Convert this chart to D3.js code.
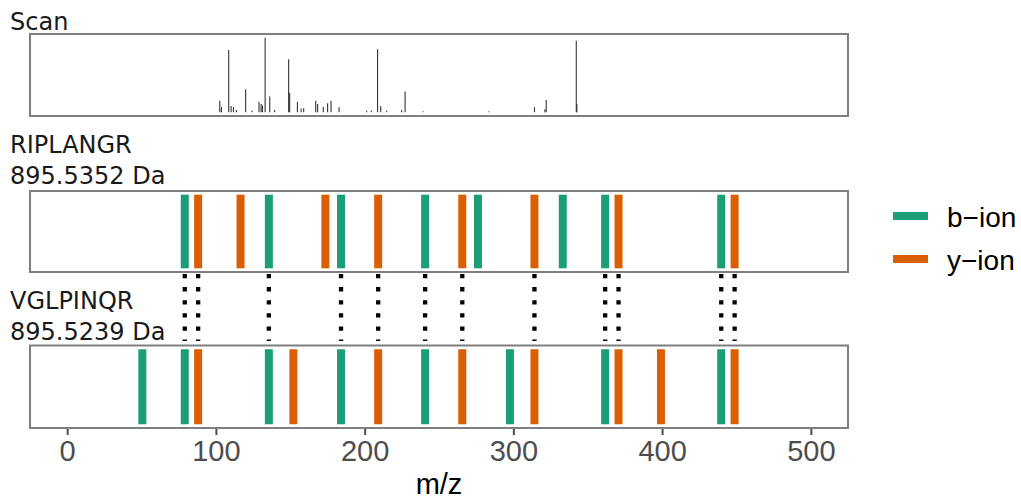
<!DOCTYPE html>
<html>
<head>
<meta charset="utf-8">
<script src="https://cdn.jsdelivr.net/npm/d3@7"></script>
<style>
  body { margin: 0; background: #fff; }
</style>
</head>
<body>
<svg id="mainsvg" width="1021" height="500"></svg>
<script>
// scan peaks (m/z, relative intensity)
const scanMz = [102.6, 103.7, 108.6, 110.2, 111.8, 113.8, 120.0, 124.3, 129.0, 130.4, 131.3, 133.1, 136.2, 139.5,
  148.9, 149.6, 154.8, 157.3, 159.0, 167.1, 168.4, 172.2, 175.1, 177.4, 182.8, 201.3, 204.5, 208.7, 210.8,
  214.8, 224.9, 227.2, 239.2, 283.6, 314.2, 321.2, 322.1, 342.3, 342.7]
const scanInt = [15.5, 7, 83.5, 8.5, 7, 3, 31, 2, 14, 11, 9, 100, 21, 3,
  71, 26, 14, 5, 5.5, 15.5, 11, 7, 12, 15.5, 6.7, 2, 2, 84.5, 8.5,
  2, 3, 28, 1.5, 1.5, 6.7, 4, 16.5, 96, 11]

// peptide 1
const pep1Name = "RIPLANGR"
const pep1Mass = "895.5352 Da"
const pep1B = [79.06, 135.60, 184.13, 240.67, 276.19, 333.21, 361.72, 439.77]
const pep1Y = [88.06, 116.57, 173.60, 209.11, 265.66, 314.18, 370.72, 448.77]

// peptide 2
const pep2Name = "VGLPINQR"
const pep2Mass = "895.5239 Da"
const pep2B = [50.54, 79.05, 135.59, 184.12, 240.66, 297.68, 361.71, 439.76]
const pep2Y = [88.06, 152.09, 209.11, 265.66, 314.18, 370.72, 399.24, 448.77]

const xTicks = [0, 100, 200, 300, 400, 500]
const ionTypes = ["b\u2212ion", "y\u2212ion"]
const ionColors = ["#1B9E77", "#D95F02"]

const svg = d3.select('#mainsvg')
const left = 30, right = 848

const x = d3.scaleLinear().domain([-25, 525]).range([left, right])
const color = d3.scaleOrdinal().domain(["b", "y"]).range(ionColors)

const labelFont = "DejaVu Sans"
const axisFont = "Liberation Sans, Arial, sans-serif"

function panelBox(top, bottom) {
    svg.append("rect")
        .attr("x", left).attr("y", top)
        .attr("width", right - left).attr("height", bottom - top)
        .attr("fill", "none").attr("stroke", "#7f7f7f").attr("stroke-width", 2)
}

// scan panel
const scanTop = 34, scanBottom = 116
const yScan = d3.scaleLinear().domain([-5, 105]).range([scanBottom, scanTop])
scanMz.forEach((m, i) => {
    svg.append("line")
        .attr("x1", x(m)).attr("x2", x(m))
        .attr("y1", yScan(0)).attr("y2", yScan(scanInt[i]))
        .attr("stroke", "#333").attr("stroke-width", 1.1)
})
panelBox(scanTop, scanBottom)
svg.append("text").text("Scan")
    .attr("x", 10).attr("y", 30)
    .attr("font-family", labelFont).attr("font-size", 24).attr("fill", "#1a1a1a")

// ion panels
function ionPanel(top, bottom, bIons, yIons) {
    const yy = d3.scaleLinear().domain([-0.05, 1.05]).range([bottom, top])
    const ions = bIons.map(m => ({ mz: m, t: "b" })).concat(yIons.map(m => ({ mz: m, t: "y" })))
    svg.append("g").selectAll("rect").data(ions).join("rect")
        .attr("x", d => x(d.mz) - 4)
        .attr("width", 8)
        .attr("y", yy(1))
        .attr("height", yy(0) - yy(1))
        .attr("fill", d => color(d.t))
    panelBox(top, bottom)
}

const p1Top = 191, p1Bottom = 272
const p2Top = 345.5, p2Bottom = 428
ionPanel(p1Top, p1Bottom, pep1B, pep1Y)
ionPanel(p2Top, p2Bottom, pep2B, pep2Y)

svg.append("text").text(pep1Name).attr("x", 10).attr("y", 153)
    .attr("font-family", labelFont).attr("font-size", 24).attr("fill", "#1a1a1a")
svg.append("text").text(pep1Mass).attr("x", 10).attr("y", 184)
    .attr("font-family", labelFont).attr("font-size", 24).attr("fill", "#1a1a1a")

// shared fragments, dotted links
const matched = []
pep1B.forEach(m => { if (pep2B.some(n => Math.abs(n - m) < 0.02)) matched.push(m) })
pep1Y.forEach(m => { if (pep2Y.some(n => Math.abs(n - m) < 0.02)) matched.push(m) })
svg.append("g").selectAll("line").data(matched).join("line")
    .attr("x1", d => x(d)).attr("x2", d => x(d))
    .attr("y1", 274).attr("y2", 341)
    .attr("stroke", "#000").attr("stroke-width", 4.3)
    .attr("stroke-dasharray", "4.3,8.8")

svg.append("text").text(pep2Name).attr("x", 10).attr("y", 309)
    .attr("font-family", labelFont).attr("font-size", 24).attr("fill", "#1a1a1a")
svg.append("text").text(pep2Mass).attr("x", 10).attr("y", 340)
    .attr("font-family", labelFont).attr("font-size", 24).attr("fill", "#1a1a1a")

// x axis
const xAxis = d3.axisBottom(x).tickValues(xTicks).tickSize(6).tickPadding(5)
const ax = svg.append("g").attr("transform", `translate(0, ${p2Bottom + 1})`).call(xAxis)
ax.select(".domain").remove()
ax.selectAll(".tick line").attr("stroke", "#4d4d4d").attr("stroke-width", 2)
ax.selectAll(".tick text")
    .attr("font-family", axisFont).attr("font-size", 29).attr("fill", "#4d4d4d")

svg.append("text").text("m/z")
    .attr("x", (left + right) / 2).attr("y", 494)
    .attr("text-anchor", "middle")
    .attr("font-family", axisFont).attr("font-size", 29).attr("fill", "#000")

// legend
const legend = svg.append("g")
ionTypes.forEach((t, i) => {
    const cy = 216 + i * 43
    legend.append("rect").attr("x", 893).attr("y", cy - 4)
        .attr("width", 35).attr("height", 8).attr("fill", ionColors[i])
    legend.append("text").text(t).attr("x", 947).attr("y", cy + 10.5)
        .attr("font-family", axisFont).attr("font-size", 28).attr("fill", "#000")
})
</script>
</body>
</html>
